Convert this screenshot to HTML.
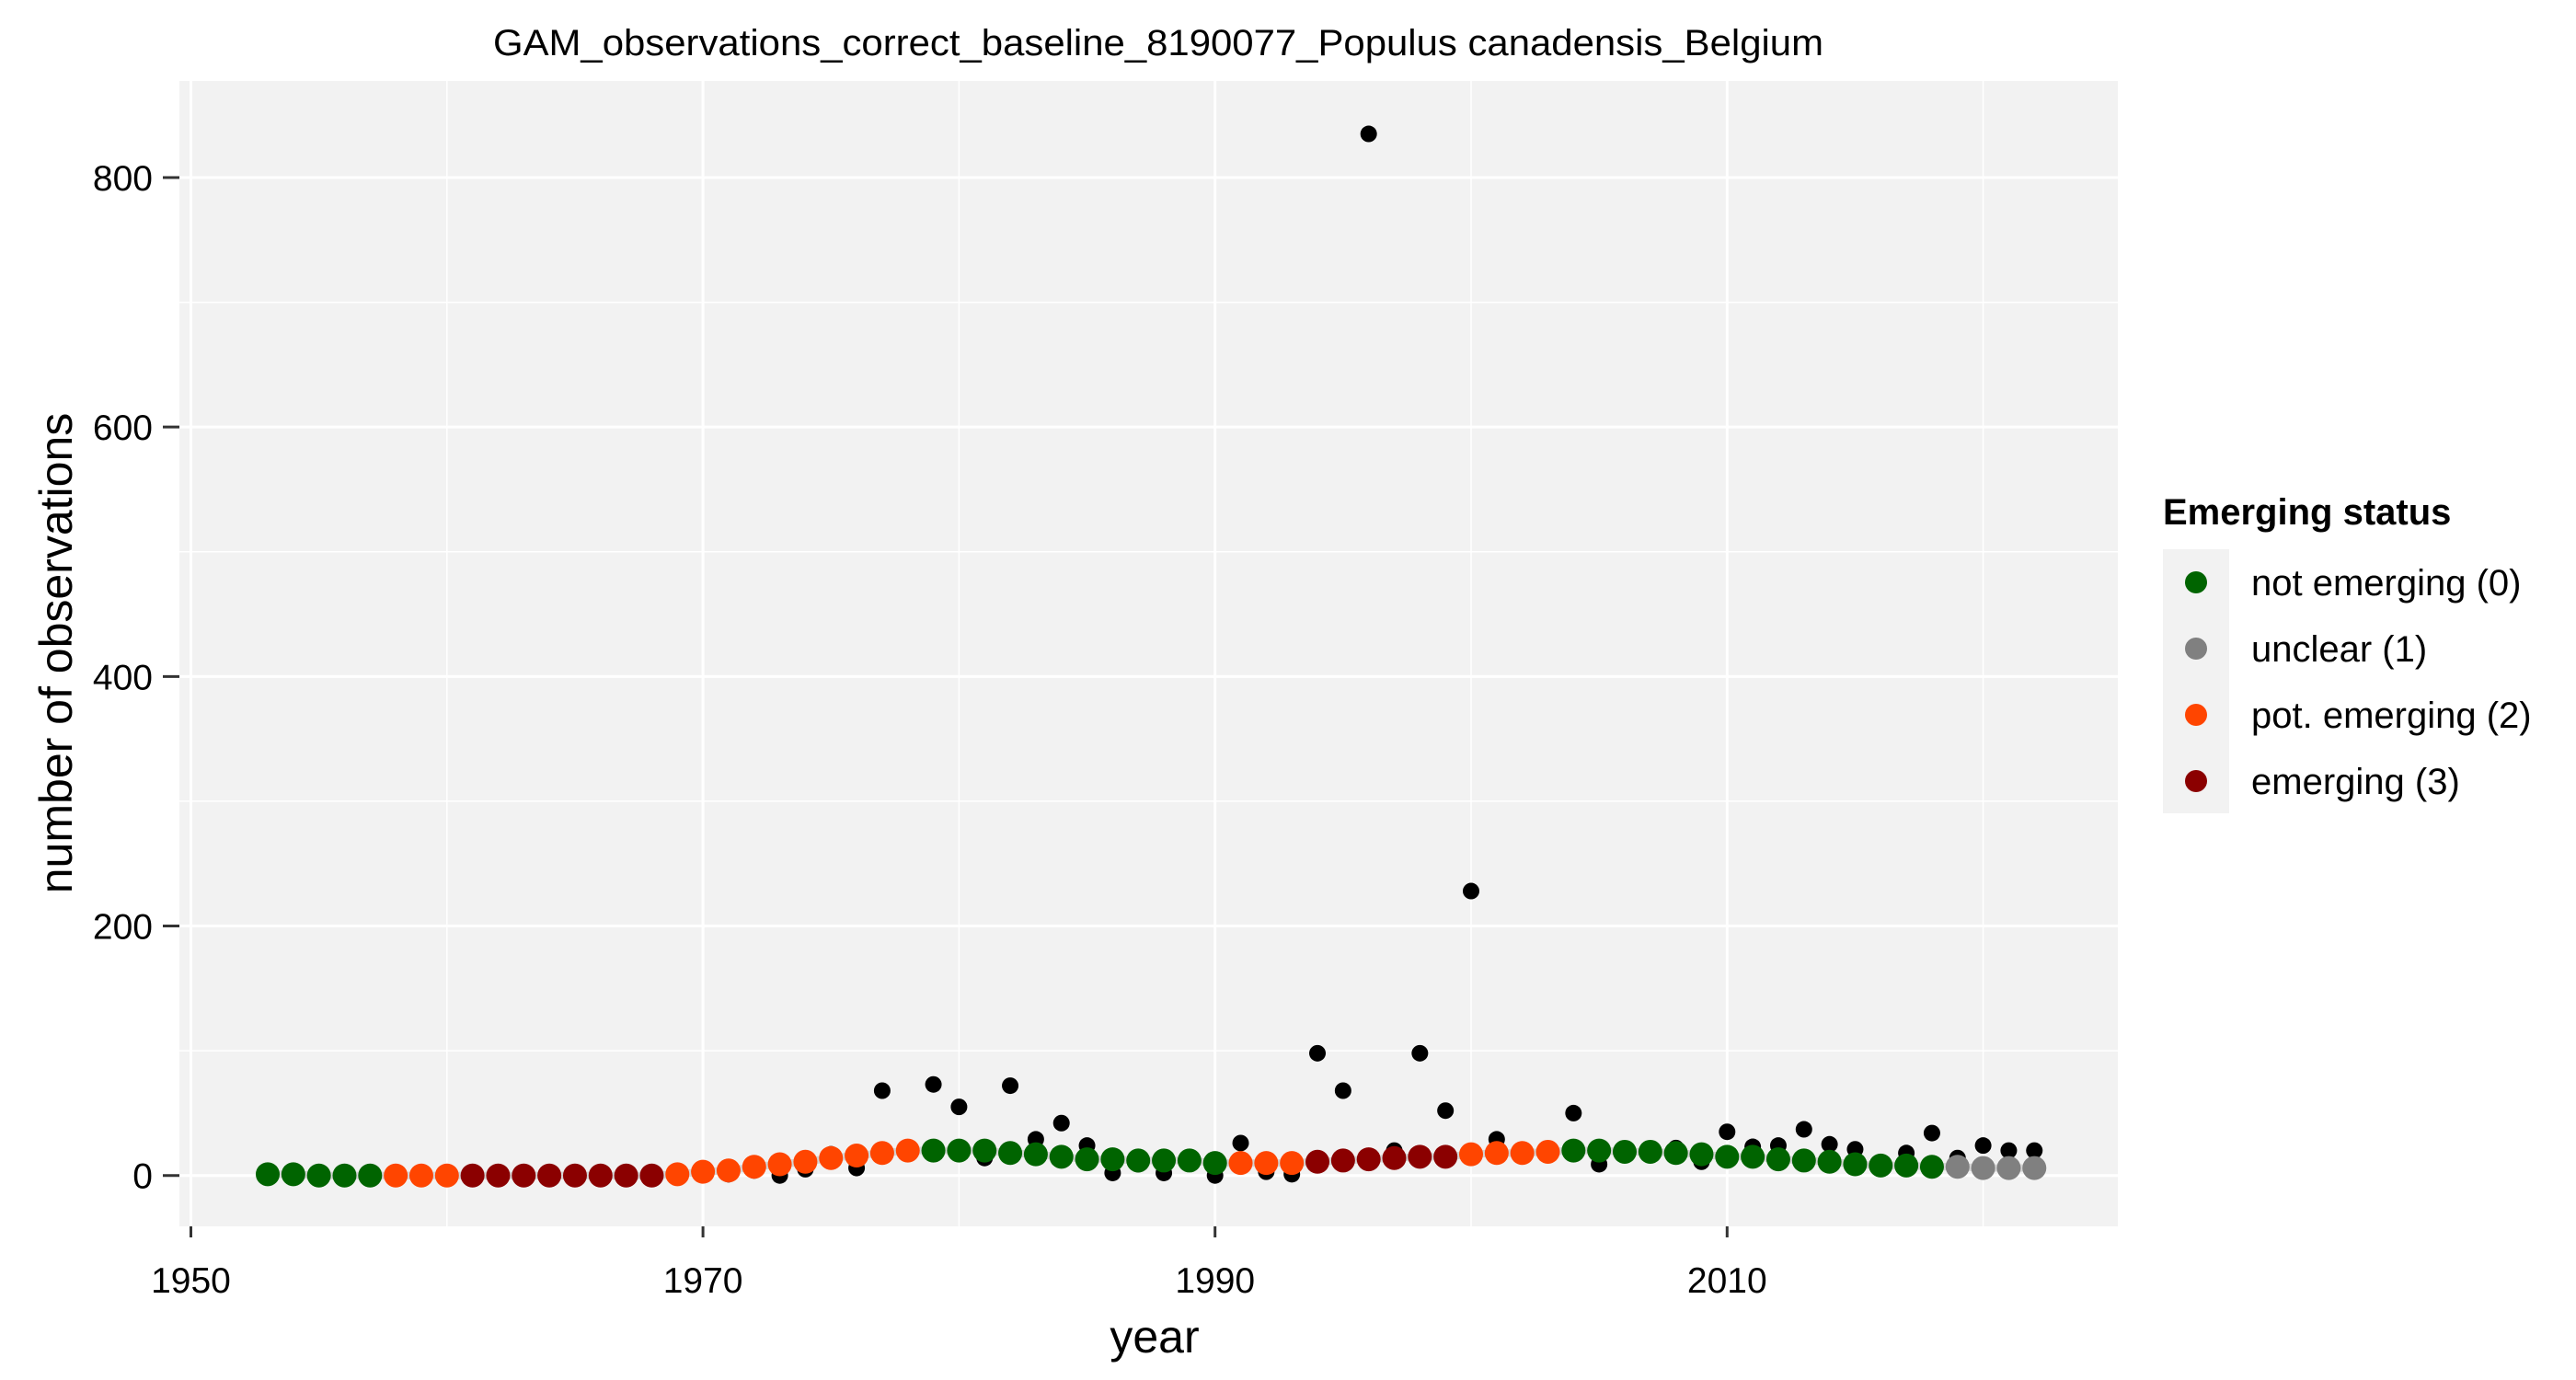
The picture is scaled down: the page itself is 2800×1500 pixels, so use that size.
<!DOCTYPE html>
<html><head><meta charset="utf-8"><style>
body{margin:0;background:#fff}
svg{display:block;font-family:"Liberation Sans",Arial,sans-serif}
</style></head><body>
<svg id="chart" width="2800" height="1500" viewBox="0 0 2800 1500">
<rect x="0" y="0" width="2800" height="1500" fill="#fff"/>
<text x="1259" y="60" font-size="40" text-anchor="middle" textLength="1446" lengthAdjust="spacingAndGlyphs">GAM_observations_correct_baseline_8190077_Populus canadensis_Belgium</text>
<rect x="195" y="88" width="2107" height="1245" fill="#f2f2f2"/>
<g id="grid"></g>
<g id="ribbon"></g>
<g id="obs"></g>
<g id="fit"></g>
<g id="axes"></g>
<text x="0" y="0" font-size="50" text-anchor="middle" transform="translate(78,710) rotate(-90)">number of observations</text>
<text x="1255" y="1470" font-size="50" text-anchor="middle">year</text>
<g>
<text x="2351" y="570" font-size="40" font-weight="bold">Emerging status</text>
<rect x="2351" y="597" width="72" height="287" fill="#f2f2f2"/>
<g id="legend-entries"></g>
</g>
</svg>
<script>
const years = [];
for (let y = 1953; y <= 2022; y++) years.push(y);
const observed = [0,0,0,0,0,0,0,0,0,0,0,0,0,0,0,0,0,1,1,4,0,5,17,6,68,20,73,55,14,72,29,42,24,2,9,2,12,0,26,3,1,98,68,835,20,98,52,228,29,18,18,50,9,18,18,22,11,35,23,24,37,25,21,9,18,34,14,24,20,20];
const fitted = [1,1,0,0,0,0,0,0,0,0,0,0,0,0,0,0,1,3,4,7,9,11,14,16,18,20,20,20,20,18,17,15,13,13,12,12,12,10,10,10,10,11,12,13,14,15,15,17,18,18,19,20,20,19,19,18,17,15,15,13,12,11,9,8,8,7,7,6,6,6];
const status = [0,0,0,0,0,2,2,2,3,3,3,3,3,3,3,3,2,2,2,2,2,2,2,2,2,2,0,0,0,0,0,0,0,0,0,0,0,0,2,2,2,3,3,3,3,3,3,2,2,2,2,0,0,0,0,0,0,0,0,0,0,0,0,0,0,0,1,1,1,1];
const statusLabels = ["not emerging (0)","unclear (1)","pot. emerging (2)","emerging (3)"];
const statusColors = ["#006400","#808080","#ff4500","#8b0000"];
const xTicks = [1950,1970,1990,2010];
const xMinor = [1960,1980,2000,2020];
const yTicks = [0,200,400,600,800];
const yMinor = [100,300,500,700];

const NS = "http://www.w3.org/2000/svg";
const X = v => 207.5 + (v - 1950) * 27.83;
const Y = v => 1277.7 - v * 1.3559;
function mk(tag, attrs, parent) {
  const e = document.createElementNS(NS, tag);
  for (const k in attrs) e.setAttribute(k, attrs[k]);
  parent.appendChild(e);
  return e;
}
const grid = document.getElementById('grid');
yMinor.forEach(v => {
  const l = mk('line', {x1:195, x2:2302, y1:Y(v), y2:Y(v), stroke:'#fff', 'stroke-width':1.5}, grid);
  
  
});
xMinor.forEach(v => {
  const l = mk('line', {x1:X(v), x2:X(v), y1:88, y2:1333, stroke:'#fff', 'stroke-width':1.5}, grid);
  
  
});
yTicks.forEach(v => {
  const l = mk('line', {x1:195, x2:2302, y1:Y(v), y2:Y(v), stroke:'#fff', 'stroke-width':3}, grid);
  
  
});
xTicks.forEach(v => {
  const l = mk('line', {x1:X(v), x2:X(v), y1:88, y2:1333, stroke:'#fff', 'stroke-width':3}, grid);
  
  
});
const rib = document.getElementById('ribbon');
let up = years.map((y,i)=>X(y)+','+Y(fitted[i]+3)).join(' ');
let dn = years.slice().reverse().map((y,j)=>X(y)+','+Y(Math.max(fitted[years.length-1-j]-3,-3))).join(' ');
const rp = mk('polygon', {points: up+' '+dn, fill:'#cccccc', opacity:0.8}, rib);


const obs = document.getElementById('obs');
years.forEach((y,i) => {
  const c = mk('circle', {cx:X(y), cy:Y(observed[i]), r:9, fill:'#000'}, obs);
  
  
});
const fit = document.getElementById('fit');
years.forEach((y,i) => {
  const c = mk('circle', {cx:X(y), cy:Y(fitted[i]), r:13, fill:statusColors[status[i]]}, fit);
  
  
});
const ax = document.getElementById('axes');
yTicks.forEach(v => {
  const t = mk('line', {x1:177, x2:195, y1:Y(v), y2:Y(v), stroke:'#333', 'stroke-width':3}, ax);
  
  
  const tx = mk('text', {x:166, y:Y(v)+14, 'font-size':39, 'text-anchor':'end', fill:'#000'}, ax);
  tx.textContent = v;
  
  
});
xTicks.forEach(v => {
  const t = mk('line', {x1:X(v), x2:X(v), y1:1333, y2:1345, stroke:'#333', 'stroke-width':3}, ax);
  
  
  const tx = mk('text', {x:X(v), y:1405, 'font-size':39, 'text-anchor':'middle', fill:'#000'}, ax);
  tx.textContent = v;
  
  
});
const lg = document.getElementById('legend-entries');
statusLabels.forEach((s,i) => {
  const cy = 633 + i*72;
  const c = mk('circle', {cx:2387, cy:cy, r:12, fill:statusColors[i]}, lg);
  
  
  const t = mk('text', {x:2447, y:cy+14, 'font-size':40}, lg);
  t.textContent = s;
  
  
});
</script>
</body></html>
